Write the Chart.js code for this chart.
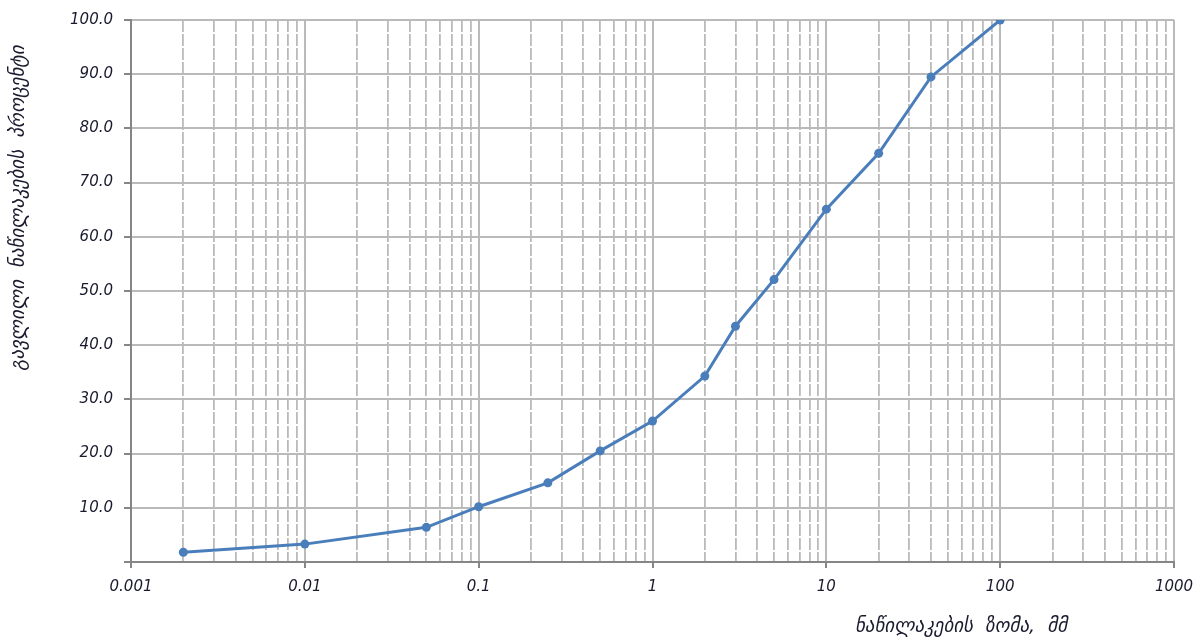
<!DOCTYPE html>
<html>
<head>
<meta charset="utf-8">
<script src="https://cdn.jsdelivr.net/npm/chart.js@4.4.1/dist/chart.umd.min.js"></script>
<style>
  html, body { margin: 0; padding: 0; background: #fff; }
  #wrap { width: 1200px; height: 644px; position: relative; }
</style>
</head>
<body>
<div id="wrap"><canvas id="c" width="1200" height="644"></canvas></div>
<script>
// Grain-size distribution: particle size (mm) vs. percent passing
const particleSizes = [0.002, 0.01, 0.05, 0.1, 0.25, 0.5, 1, 2, 3, 5, 10, 20, 40, 100];
const passingPercent = [1.8, 3.3, 6.4, 10.2, 14.6, 20.5, 26.0, 34.3, 43.5, 52.1, 65.1, 75.4, 89.5, 100.0];

// Labelled decades on the logarithmic size axis
const decadeTicks = [0.001, 0.01, 0.1, 1, 10, 100, 1000];
const decadeLabels = ['0.001', '0.01', '0.1', '1', '10', '100', '1000'];

const yTitle = 'გავლილი  ნაწილაკების  პროცენტი';
const xTitle = 'ნაწილაკების  ზომა,  მმ';

const AXIS_GREY = '#868686';
const GRID_GREY = '#bababa';
const LINE_BLUE = '#4a7ebb';
const TEXT = '#1a1a2e';
const tickFont = { family: '"DejaVu Sans"', size: 15, style: 'italic' };

// Full set of log ticks: 1..9 within each decade, plus the closing decade
function logTicks() {
  const out = [];
  for (let d = 0; d < decadeTicks.length - 1; d++) {
    for (let m = 1; m <= 9; m++) {
      out.push({ value: Number((m * decadeTicks[d]).toPrecision(12)), major: m === 1 });
    }
  }
  out.push({ value: decadeTicks[decadeTicks.length - 1], major: true });
  return out;
}

// Axis titles drawn on the canvas
const axisTitles = {
  id: 'axisTitles',
  afterDraw(chart) {
    const ctx = chart.ctx;
    ctx.save();
    ctx.fillStyle = TEXT;
    ctx.font = 'italic 19px "DejaVu Sans"';
    ctx.textAlign = 'center';
    ctx.textBaseline = 'middle';
    ctx.save();
    ctx.translate(19, 208);
    ctx.rotate(-Math.PI / 2);
    ctx.fillText(yTitle, 0, 0);
    ctx.restore();
    ctx.fillText(xTitle, 961, 627);
    ctx.restore();
  }
};

new Chart(document.getElementById('c'), {
  type: 'line',
  data: {
    datasets: [{
      data: particleSizes.map((x, i) => ({ x, y: passingPercent[i] })),
      borderColor: LINE_BLUE,
      backgroundColor: LINE_BLUE,
      borderWidth: 3,
      pointRadius: 4.5,
      pointHoverRadius: 4.5,
      pointBorderWidth: 0,
      tension: 0,
      fill: false
    }]
  },
  options: {
    responsive: false,
    animation: false,
    devicePixelRatio: 1,
    layout: { padding: { left: 0, right: 26, top: 18, bottom: 0 } },
    plugins: { legend: { display: false }, tooltip: { enabled: false } },
    scales: {
      x: {
        type: 'logarithmic',
        min: 0.001,
        max: 1000,
        afterBuildTicks(scale) { scale.ticks = logTicks(); },
        afterFit(scale) {
          scale.height = 82;
          scale.paddingLeft = 0;
          scale.paddingRight = 0;
        },
        ticks: {
          autoSkip: false,
          maxRotation: 0,
          minRotation: 0,
          padding: 10,
          color: TEXT,
          font: tickFont,
          callback(value) {
            const i = decadeTicks.findIndex(d => Math.abs(d - value) < d * 1e-6);
            return i >= 0 ? decadeLabels[i] : '';
          }
        },
        grid: {
          color: GRID_GREY,
          lineWidth: ctx => (ctx.tick && ctx.tick.major ? 2 : 1.8),
          tickLength: 6,
          tickColor: ctx => (ctx.tick && ctx.tick.major ? AXIS_GREY : 'rgba(0,0,0,0)'),
          tickWidth: 2
        },
        border: {
          color: AXIS_GREY,
          width: 2,
          dash: ctx => (ctx.tick && !ctx.tick.major ? [12, 2] : [])
        }
      },
      y: {
        min: 0,
        max: 100,
        afterFit(scale) { scale.width = 131; },
        ticks: {
          stepSize: 10,
          padding: 11,
          color: TEXT,
          font: tickFont,
          callback: v => (v === 0 ? '' : v.toFixed(1))
        },
        grid: {
          color: GRID_GREY,
          lineWidth: 2,
          tickLength: 7,
          tickColor: AXIS_GREY,
          tickWidth: 2
        },
        border: { color: AXIS_GREY, width: 2 }
      }
    }
  },
  plugins: [axisTitles]
});
</script>
</body>
</html>
